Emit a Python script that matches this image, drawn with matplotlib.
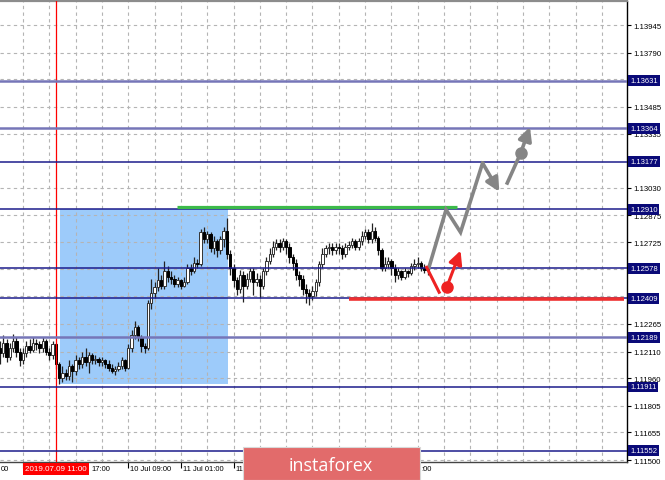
import numpy as np
import matplotlib
matplotlib.use("Agg")
import matplotlib.pyplot as plt
import matplotlib.transforms as mtransforms
from matplotlib.patches import Rectangle

# H1 candles, first bar is 8 Jul 18:00 (bar -7), bar 0 = 9 Jul 01:00
first_open = 1.12130
closes = [1.12100, 1.12160, 1.12080, 1.12130, 1.12170, 1.12110, 1.12060,
          1.12100, 1.12140, 1.12120, 1.12160, 1.12150, 1.12130, 1.12170, 1.12110,
          1.12090, 1.12150, 1.12040, 1.11960, 1.11990, 1.11970, 1.12030, 1.12000,
          1.12060, 1.12040, 1.12080, 1.12050, 1.12090, 1.12060, 1.12070, 1.12050,
          1.12060, 1.12040, 1.12020, 1.12000, 1.12010, 1.12030, 1.12060, 1.12020,
          1.12130, 1.12200, 1.12250, 1.12190, 1.12140, 1.12130, 1.12380, 1.12440,
          1.12470, 1.12510, 1.12480, 1.12560, 1.12530, 1.12520, 1.12490, 1.12510,
          1.12480, 1.12500, 1.12580, 1.12560, 1.12610, 1.12600, 1.12780, 1.12740,
          1.12770, 1.12690, 1.12730, 1.12680, 1.12740, 1.12790, 1.12660, 1.12580,
          1.12510, 1.12460, 1.12540, 1.12480, 1.12520, 1.12560, 1.12500, 1.12520,
          1.12480, 1.12560, 1.12620, 1.12660, 1.12700, 1.12720, 1.12700, 1.12730,
          1.12700, 1.12640, 1.12610, 1.12540, 1.12520, 1.12460, 1.12440, 1.12420,
          1.12450, 1.12500, 1.12600, 1.12660, 1.12690, 1.12700, 1.12680, 1.12700,
          1.12690, 1.12660, 1.12700, 1.12710, 1.12730, 1.12700, 1.12730, 1.12760,
          1.12780, 1.12740, 1.12790, 1.12750, 1.12680, 1.12580, 1.12600, 1.12620,
          1.12580, 1.12540, 1.12560, 1.12530, 1.12560, 1.12550, 1.12590, 1.12600,
          1.12610, 1.12580, 1.12570, 1.12570]
highs = [1.12170, 1.12200, 1.12180, 1.12160, 1.12210, 1.12190, 1.12130,
         1.12130, 1.12170, 1.12180, 1.12190, 1.12180, 1.12170, 1.12190, 1.12180,
         1.12130, 1.12170, 1.12160, 1.12050, 1.12030, 1.12010, 1.12060, 1.12040,
         1.12090, 1.12080, 1.12110, 1.12130, 1.12110, 1.12100, 1.12090, 1.12080,
         1.12080, 1.12070, 1.12060, 1.12040, 1.12030, 1.12050, 1.12080, 1.12070,
         1.12150, 1.12230, 1.12280, 1.12260, 1.12200, 1.12160, 1.12400, 1.12520,
         1.12500, 1.12580, 1.12540, 1.12620, 1.12590, 1.12560, 1.12540, 1.12530,
         1.12520, 1.12530, 1.12600, 1.12600, 1.12640, 1.12630, 1.12800, 1.12810,
         1.12790, 1.12780, 1.12760, 1.12740, 1.12760, 1.12810, 1.12860, 1.12680,
         1.12600, 1.12530, 1.12570, 1.12560, 1.12550, 1.12580, 1.12580, 1.12550,
         1.12540, 1.12580, 1.12640, 1.12690, 1.12730, 1.12740, 1.12740, 1.12750,
         1.12740, 1.12720, 1.12660, 1.12630, 1.12560, 1.12540, 1.12490, 1.12460,
         1.12480, 1.12520, 1.12620, 1.12690, 1.12710, 1.12720, 1.12720, 1.12720,
         1.12720, 1.12710, 1.12720, 1.12730, 1.12750, 1.12740, 1.12750, 1.12790,
         1.12800, 1.12800, 1.12830, 1.12810, 1.12760, 1.12690, 1.12640, 1.12640,
         1.12630, 1.12600, 1.12580, 1.12570, 1.12580, 1.12570, 1.12610, 1.12630,
         1.12640, 1.12620, 1.12600, 1.12590]
lows = [1.12040, 1.12080, 1.12050, 1.12060, 1.12110, 1.12080, 1.12030,
        1.12040, 1.12080, 1.12100, 1.12110, 1.12120, 1.12100, 1.12110, 1.12090,
        1.12060, 1.12070, 1.12010, 1.11925, 1.11940, 1.11950, 1.11950, 1.11940,
        1.11980, 1.12010, 1.12020, 1.12030, 1.11990, 1.12040, 1.12040, 1.12030,
        1.12030, 1.12020, 1.12000, 1.11990, 1.11980, 1.12000, 1.12010, 1.12000,
        1.12010, 1.12110, 1.12180, 1.12170, 1.12110, 1.12100, 1.12120, 1.12350,
        1.12410, 1.12450, 1.12460, 1.12460, 1.12500, 1.12490, 1.12470, 1.12470,
        1.12460, 1.12470, 1.12490, 1.12540, 1.12550, 1.12580, 1.12590, 1.12720,
        1.12720, 1.12670, 1.12660, 1.12640, 1.12660, 1.12700, 1.12630, 1.12540,
        1.12470, 1.12430, 1.12440, 1.12390, 1.12460, 1.12500, 1.12430, 1.12480,
        1.12410, 1.12460, 1.12540, 1.12600, 1.12640, 1.12680, 1.12670, 1.12680,
        1.12660, 1.12610, 1.12570, 1.12510, 1.12480, 1.12430, 1.12380, 1.12370,
        1.12400, 1.12420, 1.12480, 1.12580, 1.12640, 1.12660, 1.12650, 1.12660,
        1.12660, 1.12630, 1.12640, 1.12680, 1.12690, 1.12680, 1.12680, 1.12710,
        1.12740, 1.12720, 1.12720, 1.12730, 1.12650, 1.12560, 1.12560, 1.12580,
        1.12540, 1.12500, 1.12520, 1.12510, 1.12520, 1.12530, 1.12540, 1.12570,
        1.12580, 1.12560, 1.12550, 1.12540]
opens = [first_open] + closes[:-1]
first_bar = -7

# horizontal levels
levels = [1.13631, 1.13364, 1.13177, 1.12910, 1.12578, 1.12409, 1.12189, 1.11911, 1.11552]
light_levels = [1.13631, 1.13364, 1.12189]

price_ticks = [1.13945, 1.13790, 1.13485, 1.13335, 1.13030, 1.12875, 1.12725,
               1.12265, 1.12110, 1.11960, 1.11805, 1.11655, 1.11500]
hidden_grid = [1.13640, 1.12575, 1.12420]

# time axis: tick bars and the part of each label left visible
time_ticks = [-16, 0, 16, 32, 48, 64, 80, 96, 112]
time_labels = ["00", "", "17:00", "10 Jul 09:00", "11 Jul 01:00",
               "11", "", "", ":00"]
marker_bar = 10
marker_label = "2019.07.09 11:00"

# zone and drawn lines
zone_bars = (11.2, 62.3)
zone_prices = (1.11927, 1.12911)
green_bars = (46.8, 131.9)
green_price = 1.12922
red_bars = (99.1, 182.7)
red_price = 1.12405

# forecast paths
gray_x = [123.4, 128.6, 133.0, 139.7]
gray_y = [1.12583, 1.12907, 1.12780, 1.13169]
gray_arrow_end = (144.8, 1.13008)
gray2_start = (147.2, 1.13057)
gray2_dot = (151.3, 1.13226)
gray2_end = (154.1, 1.13372)
red_x = [122.7, 126.5]
red_y = [1.12583, 1.12443]
red_dot = (128.8, 1.12471)
red_end = (133.0, 1.12677)

W, H = 665, 481
fig = plt.figure(figsize=(W / 100, H / 100), dpi=100)
ax = fig.add_axes([0, 18 / H, 627 / W, 461 / H])
fig.patch.set_facecolor("white")

# zone
ax.add_patch(Rectangle((zone_bars[0], zone_prices[0]), zone_bars[1] - zone_bars[0],
                       zone_prices[1] - zone_prices[0], facecolor="#9dcbfa",
                       edgecolor="none", zorder=1))

# grid
for p in price_ticks + hidden_grid:
    ax.axhline(p, color="#b4b4b4", lw=0.8, dashes=(3, 3), zorder=2)
for b in range(-8, 184, 8):
    ax.axvline(b, color="#b4b4b4", lw=0.8, dashes=(3, 3), zorder=2)

# candles
idx = np.arange(len(closes)) + first_bar
for i, o, h, l, c in zip(idx, opens, highs, lows, closes):
    ax.vlines(i, l, h, color="#222222", lw=0.9, zorder=3)
    bull = c >= o
    lo, hi = min(o, c), max(o, c)
    if hi - lo < 0.00003:
        hi = lo + 0.00003
    ax.add_patch(Rectangle((i - 0.36, lo), 0.72, hi - lo,
                           facecolor="white" if bull else "black",
                           edgecolor="#333333" if bull else "black",
                           lw=0.7, zorder=3.5))

# marker line
ax.axvline(marker_bar, color="red", lw=0.9, zorder=4)

# levels
for p in levels:
    if p in light_levels:
        ax.axhline(p, color="#7676b8", lw=1.8, zorder=4)
    else:
        ax.axhline(p, color="#1c1c8c", lw=1.1, zorder=4)

ax.plot(green_bars, [green_price] * 2, color="#3cba4a", lw=2.3, zorder=5,
        solid_capstyle="butt")
ax.plot(red_bars, [red_price] * 2, color="#ee3030", lw=2.6, zorder=5,
        solid_capstyle="butt")

# forecast drawings
gray = "#858585"
head = "-|>,head_length=0.8,head_width=0.4"
ax.plot(gray_x, gray_y, color=gray, lw=2.6, zorder=6, solid_joinstyle="miter")
ax.annotate("", xy=gray_arrow_end, xytext=(gray_x[-1], gray_y[-1]),
            arrowprops=dict(arrowstyle=head, color=gray, lw=2.6,
                            shrinkA=0, shrinkB=0), zorder=6)
ax.plot([gray2_start[0], gray2_dot[0]], [gray2_start[1], gray2_dot[1]],
        color=gray, lw=2.6, zorder=6)
ax.annotate("", xy=gray2_end, xytext=gray2_dot,
            arrowprops=dict(arrowstyle=head, color=gray, lw=2.6,
                            shrinkA=0, shrinkB=0), zorder=6)
ax.plot(*gray2_dot, "o", color=gray, ms=8, zorder=6)

redc = "#ee2222"
ax.plot(red_x, red_y, color=redc, lw=2.2, zorder=6)
ax.annotate("", xy=red_end, xytext=red_dot,
            arrowprops=dict(arrowstyle=head, color=redc, lw=2.2,
                            shrinkA=0, shrinkB=0), zorder=6)
ax.plot(*red_dot, "o", color=redc, ms=8, zorder=6)

# spines and ticks
ax.spines["left"].set_visible(False)
ax.spines["right"].set_color("black")
ax.spines["right"].set_linewidth(1.0)
ax.spines["bottom"].set_color("#444444")
ax.spines["bottom"].set_linewidth(1.0)
ax.spines["top"].set_color("#8c8c8c")
ax.spines["top"].set_linewidth(1.6)

ax.yaxis.tick_right()
ax.set_yticks(price_ticks)
ax.set_yticklabels(["%.5f" % p for p in price_ticks],
                   fontfamily="Liberation Sans", fontsize=5.6)
ax.tick_params(axis="y", length=3, width=0.8, pad=1.5, color="black")
ax.set_xticks(time_ticks)
ax.set_xticklabels([])
ax.tick_params(axis="x", length=4, width=0.8, color="black", direction="out")

# limits last, set_xticks would widen them
ax.set_xlim(-6.99, 183.6)
ax.set_ylim(1.11489, 1.14080)

tlab = mtransforms.blended_transform_factory(ax.transData, fig.transFigure)
for b, lab in zip(time_ticks, time_labels):
    if not lab:
        continue
    if lab == "00":
        ax.text(-6.9, 11 / H, lab, transform=tlab, fontsize=5.5,
                fontfamily="Liberation Sans", ha="left", va="center", clip_on=False)
    elif lab == "17:00":
        ax.text(b + 4.8, 11 / H, lab, transform=tlab, fontsize=5.5,
                fontfamily="Liberation Sans", ha="left", va="center", clip_on=False)
    elif lab == ":00":
        ax.text(b + 12.2, 11 / H, lab, transform=tlab, fontsize=5.5,
                fontfamily="Liberation Sans", ha="right", va="center", clip_on=False)
    else:
        ax.text(b + 0.6, 11 / H, lab, transform=tlab, fontsize=5.5,
                fontfamily="Liberation Sans", ha="left", va="center", clip_on=False)
ax.text(marker_bar, 11 / H, marker_label, transform=tlab, fontsize=5.8,
        fontfamily="Liberation Sans", ha="center", va="center", color="white",
        bbox=dict(boxstyle="square,pad=0.3", facecolor="red", edgecolor="none"),
        zorder=10, clip_on=False)

lvl = mtransforms.blended_transform_factory(fig.transFigure, ax.transData)
for p in levels:
    ax.text(630 / W, p, "%.5f" % p, transform=lvl, fontsize=5.5,
            fontfamily="Liberation Sans", ha="left", va="center", color="white",
            bbox=dict(boxstyle="square,pad=0.25", facecolor="#0a0a78",
                      edgecolor="none"), zorder=10, clip_on=False)

# watermark
fig.add_artist(Rectangle((243 / W, 0), 177 / W, 33 / H, transform=fig.transFigure,
                         facecolor="#e26b6b", edgecolor="#d9d9d9", lw=0.8,
                         zorder=20))
fig.text(331 / W, 15 / H, "instaforex", fontsize=13, color="white",
         fontfamily="Open Sans", ha="center", va="center", zorder=21)

fig.savefig("out.png", dpi=100)
